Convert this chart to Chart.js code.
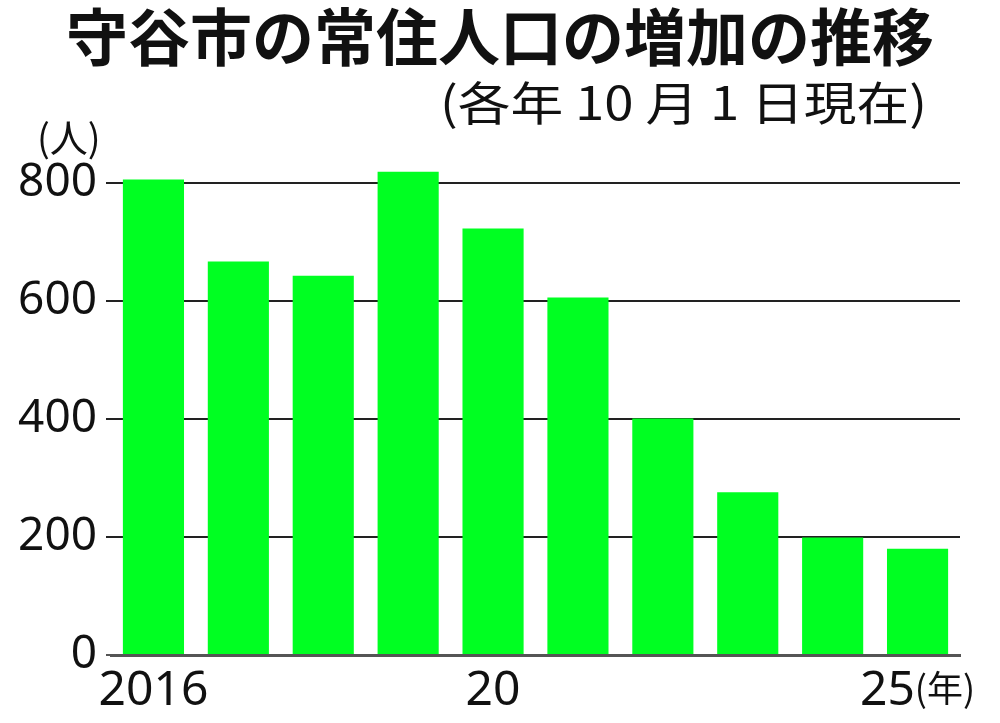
<!DOCTYPE html>
<html>
<head>
<meta charset="utf-8">
<script src="https://cdn.jsdelivr.net/npm/chart.js@4.4.1/dist/chart.umd.min.js"></script>
<style>
html,body{margin:0;padding:0;background:#fff;}
canvas{display:block;}
</style>
</head>
<body>
<canvas id="c" width="1000" height="723"></canvas>
<script>
const titleText = '守谷市の常住人口の増加の推移';
const subtitleText = '(各年 10 月 1 日現在)';
const yUnitText = '(人)';
const xUnitText = '(年)';
const categories = ['2016','2017','2018','2019','2020','2021','2022','2023','2024','2025'];
const values = [806, 667, 643, 819, 723, 606, 401, 276, 199, 180];
const xTickLabels = ['2016','','','','20','','','','','25'];
const yTicks = [0, 200, 400, 600, 800];
const yMax = 850;

const JP = '"Noto Sans CJK JP", "Noto Sans", sans-serif';
const NUM = '"Noto Sans", "DejaVu Sans", sans-serif';

const textPlugin = {
  id: 'texts',
  afterDraw(chart) {
    const ctx = chart.ctx;
    const xs = chart.scales.x;
    ctx.save();
    ctx.fillStyle = '#111';
    // title
    ctx.font = `700 62px ${JP}`;
    ctx.textAlign = 'center';
    ctx.textBaseline = 'middle';
    ctx.fillText(titleText, 500, 37);
    // subtitle (wide type)
    ctx.font = `400 46px ${JP}`;
    const w = ctx.measureText(subtitleText).width;
    ctx.save();
    ctx.translate(927, 103);
    ctx.scale(487 / w, 1);
    ctx.textAlign = 'right';
    ctx.fillText(subtitleText, 0, 0);
    ctx.restore();
    // y unit
    ctx.font = `400 38px ${JP}`;
    ctx.textAlign = 'left';
    ctx.fillText(yUnitText, 37, 138);
    // x labels
    ctx.textBaseline = 'alphabetic';
    const last = xTickLabels.length - 1;
    xTickLabels.forEach((lab, i) => {
      if (!lab) return;
      const cx = xs.getPixelForValue(i);
      if (i === last) {
        ctx.font = `400 48px ${NUM}`;
        const w1 = ctx.measureText(lab).width;
        ctx.font = `400 36px ${JP}`;
        const w2 = ctx.measureText(xUnitText).width;
        const start = cx - (w1 + w2) / 2;
        ctx.textAlign = 'left';
        ctx.font = `400 48px ${NUM}`;
        ctx.fillText(lab, start, 705);
        ctx.font = `400 36px ${JP}`;
        ctx.fillText(xUnitText, start + w1, 702);
      } else {
        ctx.textAlign = 'center';
        ctx.font = `400 48px ${NUM}`;
        ctx.fillText(lab, cx, 705);
      }
    });
    ctx.restore();
  }
};

new Chart(document.getElementById('c'), {
  type: 'bar',
  data: {
    labels: categories,
    datasets: [{
      data: values,
      backgroundColor: '#00ff22',
      borderWidth: 0,
      barPercentage: 0.72,
      categoryPercentage: 1.0
    }]
  },
  options: {
    responsive: false,
    animation: false,
    devicePixelRatio: 1,
    layout: { padding: { top: 153.5, right: 40, left: 0, bottom: 0 } },
    plugins: { legend: { display: false }, tooltip: { enabled: false }, title: { display: false } },
    scales: {
      x: {
        grid: { display: false },
        border: { display: true, color: '#555', width: 3 },
        ticks: { display: false },
        afterFit(s) { s.height = 68; }
      },
      y: {
        min: 0,
        max: yMax,
        afterBuildTicks(s) { s.ticks = yTicks.map(v => ({ value: v })); },
        grid: {
          color: c => (c.tick && c.tick.value === 0) ? '#555' : '#222',
          lineWidth: 2,
          tickLength: 5,
          drawTicks: true
        },
        border: { display: false },
        ticks: { font: { family: NUM, size: 46 }, color: '#111', padding: 9 },
        afterFit(s) { s.width = 111; }
      }
    }
  },
  plugins: [textPlugin]
});
</script>
</body>
</html>
